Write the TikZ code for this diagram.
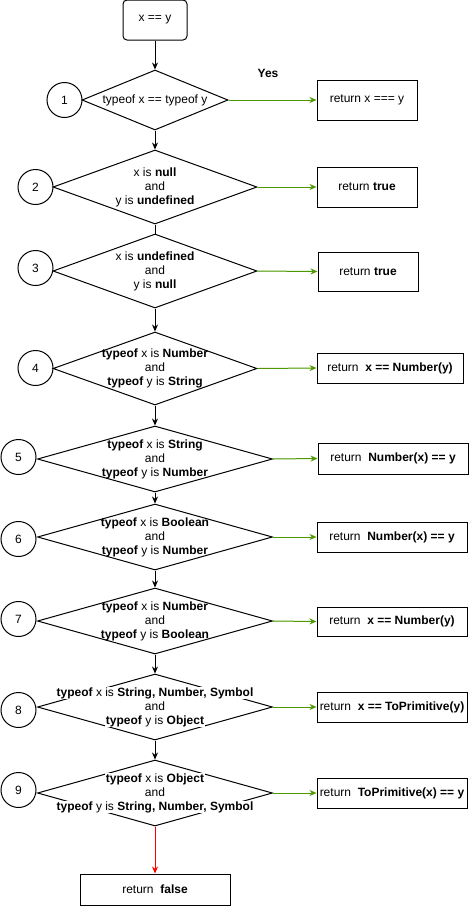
\documentclass[tikz,border=0pt]{standalone}
\usepackage{fontspec}
\setmainfont{Liberation Sans}
\usepackage{xcolor}
\usetikzlibrary{shapes.geometric,arrows.meta}

\definecolor{yesgreen}{HTML}{4D9900}
\definecolor{nored}{HTML}{FF0000}
\newcommand{\wbg}[1]{{\setlength{\fboxsep}{0.6pt}\colorbox{white}{#1}}}

\begin{document}
\begin{tikzpicture}[x=1pt,y=-1pt,line width=1pt,
		font=\fontsize{12}{14}\selectfont,
		box/.style={draw,rectangle,inner sep=0pt,align=center},
		dec/.style={draw,diamond,inner sep=0pt,aspect=1},
		num/.style={draw,circle,inner sep=0pt,minimum size=35pt},
		txt/.style={align=center,inner sep=0pt},
		go/.style={-{Stealth[length=7pt,width=6pt]}},
		yes/.style={go,draw=yesgreen,fill=yesgreen},
		no/.style={go,draw=nored,fill=nored}]
				\useasboundingbox (0,0) rectangle (469,906);
				
				% start
				\node[box,rounded corners=4pt,minimum width=64pt,minimum height=40pt] (start) at (155,20) {x == y};
				
				% decisions
				\foreach \i/\y/\w/\h in {1/100/146/60, 2/187/204/74, 3/271/204/74, 4/368.5/204/73,
					5/459/235/66, 6/537/235/66, 7/621/235/66, 8/707/235/66, 9/793/235/66}{
					\node[dec,minimum width=\w pt,minimum height=\h pt] (d\i) at (155,\y) {};}
				
				\node[txt] (t1) at (d1) {typeof x == typeof y};
				\node[txt] (t2) at (d2) {x is \textbf{null}\\and\\y is \textbf{undefined}};
				\node[txt] (t3) at (d3) {x is \textbf{undefined}\\and\\y is \textbf{null}};
				\node[txt] (t4) at (d4) {\textbf{typeof} x is \textbf{Number}\\and\\\textbf{typeof} y is \textbf{String}};
				\node[txt] (t5) at (d5) {\textbf{typeof} x is \textbf{String}\\and\\\textbf{typeof} y is \textbf{Number}};
				\node[txt] (t6) at (d6) {\textbf{typeof} x is \textbf{Boolean}\\and\\\textbf{typeof} y is \textbf{Number}};
				\node[txt] (t7) at (d7) {\textbf{typeof} x is \textbf{Number}\\and\\\textbf{typeof} y is \textbf{Boolean}};
				\node[txt] (t8) at (d8) {\wbg{\textbf{typeof} x is \textbf{String, Number, Symbol}}\\and\\\wbg{\textbf{typeof} y is \textbf{Object}}};
				\node[txt] (t9) at (d9) {\wbg{\textbf{typeof} x is \textbf{Object}}\\and\\\wbg{\textbf{typeof} y is \textbf{String, Number, Symbol}}};
				
				% step numbers
				\foreach \i/\x/\y in {1/64.5/100, 2/35.5/187, 3/35.5/268, 4/35.5/368, 5/18.5/457,
					6/18.5/539, 7/18.5/619, 8/18.5/710, 9/18.5/790}{
					\node[num] (n\i) at (\x,\y) {\i};}
				
				% results
				\node[box,minimum width=100pt,minimum height=40pt] (b1) at (367,100) {return x === y};
				\node[box,minimum width=100pt,minimum height=40pt] (b2) at (367,187) {return \textbf{true}};
				\node[box,minimum width=100pt,minimum height=39pt] (b3) at (368,271.5) {return \textbf{true}};
				\node[box,minimum width=146pt,minimum height=30pt] (b4) at (390,368) {return~~\textbf{x == Number(y)}};
				\node[box,minimum width=150pt,minimum height=31pt] (b5) at (393,458.5) {return~~\textbf{Number(x) == y}};
				\node[box,minimum width=150pt,minimum height=30pt] (b6) at (392,537) {return~~\textbf{Number(x) == y}};
				\node[box,minimum width=150pt,minimum height=29pt] (b7) at (392,621.5) {return~~\textbf{x == Number(y)}};
				\node[box,minimum width=150pt,minimum height=30pt] (b8) at (392,707) {return~~\textbf{x == ToPrimitive(y)}};
				\node[box,minimum width=150pt,minimum height=30pt] (b9) at (392,793) {return~~\textbf{ToPrimitive(x) == y}};
				\node[box,minimum width=150pt,minimum height=31pt] (bf) at (155,889.5) {return~~\textbf{false}};
				
				\node[font=\fontsize{12}{14}\selectfont\bfseries] (yes) at (268,73) {Yes};
				
				% flow
				\draw[go] (start) -- (d1);
				\draw[go] (d1) -- (d2);
				\draw (d2.south) -- (d3.north);
				\foreach \i/\j in {3/4,4/5,5/6,6/7,7/8,8/9}{
					\draw[go] (d\i) -- (d\j);}
				\draw[no] (d9) -- (bf);
				
				\foreach \i in {1,...,9}{
					\draw[yes] (d\i.east) -- (b\i.west);}
			\end{tikzpicture}
\end{document}
